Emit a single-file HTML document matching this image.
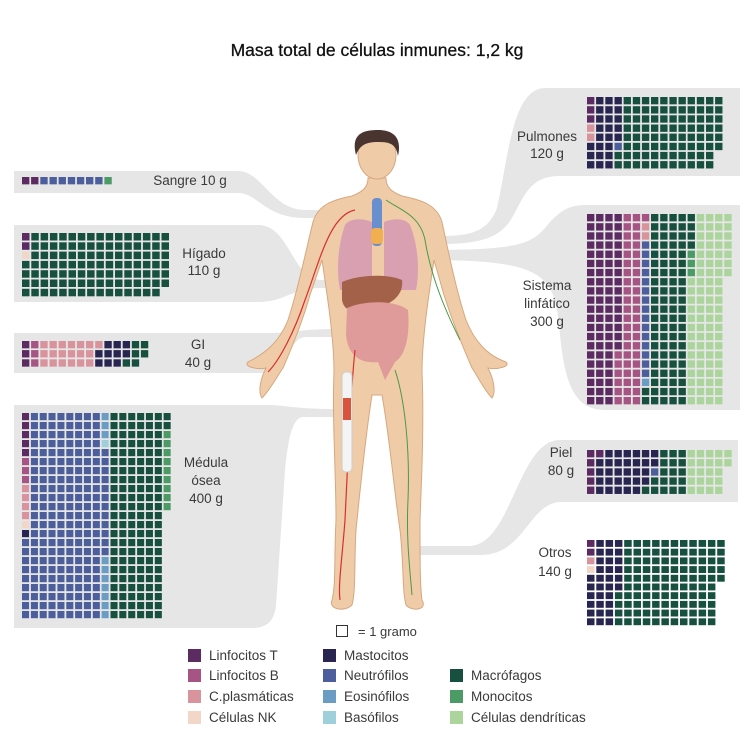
<!DOCTYPE html>
<html><head><meta charset="utf-8"><style>
html,body{margin:0;padding:0;background:#fff;}
svg{display:block;}
text{font-family:"Liberation Sans",sans-serif;fill:#3a3a3a;}
</style></head><body>
<svg id="s" width="754" height="754" viewBox="0 0 754 754" xmlns="http://www.w3.org/2000/svg">
<rect width="754" height="754" fill="#fff"/>
<g fill="#e6e6e6">
<path d="M14,171 H238 C262,171 272,210 305,210 H335 V218 H305 C265,218 258,193 238,193 H14Z"/>
<path d="M14,225 H258 C290,225 292,280 322,280 H338 V288 H322 C292,288 285,302 258,302 H14Z"/>
<path d="M14,333 H270 C290,333 300,329 338,329 V337 H305 C288,339 285,373 265,373 H14Z"/>
<path d="M14,405 H268 C285,405 292,409 338,409 V417 H302 C292,419 288,440 285,470 L276,606 C274,622 266,628 252,628 H14Z"/>
<path d="M545,88 H740 V176 H560 C530,176 525,195 512,218 C500,238 480,244 440,244 V236 C470,236 488,232 497,208 C508,160 512,88 545,88Z"/>
<path d="M585,205 H740 V410 H605 C575,410 565,385 560,335 C555,275 548,260 425,260 V250 C515,250 530,245 545,228 C558,212 568,205 585,205Z"/>
<path d="M560,440 H738 V502 H560 C528,504 525,555 480,555 H415 V546 H470 C512,544 518,440 560,440Z"/>
</g>
<!-- body -->
<g stroke="#d6a880" stroke-width="1" fill="#efcba8">
<path d="M352,196 C332,200 318,205 313,222 C306,250 298,290 288,320 C280,340 268,352 248,362 C243,366 256,370 266,368 C260,380 258,392 262,398 C270,390 278,375 283,368 C293,345 303,320 310,295 L322,260 C328,300 334,340 334,372 C332,420 336,470 336,520 C334,560 336,585 332,600 C328,610 345,612 352,605 C356,590 354,565 356,530 C360,490 365,440 372,395 L382,395 C390,440 394,490 400,530 C404,565 402,590 406,605 C412,612 428,610 422,600 C420,585 420,560 420,520 C422,470 424,420 422,372 C422,340 428,300 434,260 L444,295 C452,320 462,345 472,368 C477,375 484,390 492,398 C496,392 494,380 488,368 C498,370 511,366 506,362 C486,355 474,340 466,320 C456,290 448,250 442,222 C437,205 422,200 402,196 C392,192 386,188 386,178 L368,178 C368,188 362,192 352,196Z"/>
<ellipse cx="377" cy="155" rx="19" ry="24"/>
</g>
<path d="M356,155 C350,132 366,130 378,130 C394,130 402,138 398,156 C396,144 390,142 378,142 C366,142 360,145 356,155Z" fill="#4a3430"/>
<path d="M345,225 C338,245 336,270 340,290 L372,290 L372,222 C362,218 350,218 345,225Z" fill="#d9a0b2"/>
<path d="M410,225 C418,245 420,270 416,290 L384,290 L384,222 C394,218 405,218 410,225Z" fill="#d9a0b2"/>
<rect x="372" y="198" width="10" height="48" rx="4" fill="#6a8fcf"/>
<rect x="371" y="228" width="12" height="16" rx="4" fill="#f0b050"/>
<path d="M342,282 C360,274 390,274 402,280 C404,295 392,305 370,310 C355,313 344,312 342,300Z" fill="#a4614a"/>
<path d="M347,308 C365,300 395,300 408,310 C410,335 406,355 395,362 L385,380 L378,362 C360,364 348,355 346,335Z" fill="#df9a9a"/>
<g stroke="#d53030" stroke-width="1.2" fill="none">
<path d="M355,210 C330,215 320,260 305,300 C295,330 280,360 268,372"/>
<path d="M355,350 C350,400 348,460 345,520 C342,560 338,585 340,600"/>
</g>
<rect x="342" y="372" width="10" height="100" rx="4" fill="#f4f4f4" stroke="#ccc"/>
<rect x="343" y="398" width="8" height="22" fill="#d8543c"/>
<g stroke="#4a9a45" stroke-width="1" fill="none">
<path d="M386,200 C400,210 420,215 425,240 C430,270 440,300 460,340"/>
<path d="M395,370 C405,400 410,450 408,500 C406,540 410,570 412,595"/>
</g>
<g id="grids"></g>
<g font-size="13.5" text-anchor="middle">
<text x="377" y="56" font-size="17.5" style="fill:#111;stroke:#111;stroke-width:0.3">Masa total de células inmunes: 1,2 kg</text>
<text x="190" y="185">Sangre 10 g</text>
<text x="204" y="258">Hígado</text><text x="204" y="275">110 g</text>
<text x="198" y="349">GI</text><text x="198" y="367">40 g</text>
<text x="206" y="467">Médula</text><text x="206" y="485">ósea</text><text x="206" y="503">400 g</text>
<text x="547" y="141">Pulmones</text><text x="547" y="158">120 g</text>
<text x="547" y="290">Sistema</text><text x="547" y="308">linfático</text><text x="547" y="326">300 g</text>
<text x="561" y="457">Piel</text><text x="561" y="475">80 g</text>
<text x="555" y="557">Otros</text><text x="555" y="576">140 g</text>
</g>
<rect x="336.5" y="625.5" width="11" height="11" fill="none" stroke="#333"/>
<text x="358" y="636" font-size="13">=  1 gramo</text>
<g id="leg" font-size="13.5"></g>
</svg>
<script>
var C={T:"#5b2b62",B:"#a65484",P:"#d8939c",N:"#f2d6c8",M:"#282650",U:"#4c5f9c",E:"#6b9dc4",S:"#9fcfda",G:"#17503f",O:"#4c9a66",D:"#abd59c"};
var g=document.getElementById("grids"),ns="http://www.w3.org/2000/svg",p=9.15;
function r(x,y,w,h,c,par){var e=document.createElementNS(ns,"rect");e.setAttribute("x",x);e.setAttribute("y",y);e.setAttribute("width",w);e.setAttribute("height",h);e.setAttribute("fill",c);(par||g).appendChild(e);}
function grid(x0,y0,rows,px,py){px=px||p;py=py||px;rows.forEach(function(row,i){for(var j=0;j<row.length;j++){var ch=row[j];if(C[ch])r((x0+j*px).toFixed(1),(y0+i*py).toFixed(1),px-1.8,py-1.8,C[ch]);}});}
function rep(s,n){var a=[];for(var i=0;i<n;i++)a.push(s);return a;}
grid(22,177,["TTUUUUUUUO"]);
grid(22,233,["TGGGGGGGGGGGGGGG","TGGGGGGGGGGGGGGG","NGGGGGGGGGGGGGGG"].concat(rep("GGGGGGGGGGGGGGGG",3),["GGGGGGGGGGGGGGG"]),9.3,9.3);
grid(22,341,["TBPPPPPPPMMMGG","TBPPPPPPMMMMGG","TBPPPPPPMMMGG"]);
function colgrid(x0,y0,nr,nc,f,px,py){var rows=[];for(var i=0;i<nr;i++){var s="";for(var j=0;j<nc;j++)s+=f(j,i);rows.push(s);}grid(x0,y0,rows,px,py);}
colgrid(22,413,23,17,function(c,i){
 if(c==0)return i<5?"T":i<8?"B":i<12?"P":i==12?"N":i==13?"M":"U";
 if(c<9)return "U";
 if(c==9)return i<3?"E":i==3?"S":i<16?"U":"E";
 if(c<16)return "G";
 return i<2?"G":i<11?"O":".";},8.85,9.0);
grid(587,97,["TMMMGGGGGGGGGGG","TMMMGGGGGGGGGGG","TMMMGGGGGGGGGGG","PMMMGGGGGGGGGGG","PMMMGGGGGGGGGGG","MMMUGGGGGGGGGGG","MMMGGGGGGGGGGG","MMMGGGGGGGGGGG"]);
colgrid(587,214,21,16,function(c,i){
 if(c<3)return "T";
 if(c==3)return i<15?"T":"B";
 if(c<6)return "B";
 if(c==6)return i==0?"B":i<3?"P":i<18?"U":i==18?"E":"G";
 if(c<11)return "G";
 if(c==11)return i<4?"G":i<7?"O":"D";
 if(c<15)return "D";
 return i<7?"D":".";});
grid(587,450,["TTMMMMMMGGGDDDDD","TMMMMMMMGGGDDDDD","TMMMMMMUGGGDDDD","TMMMMMMGGGGDDDD","TMMMMMGGGGGDDDD"]);
grid(587,540,["TMMMGGGGGGGGGGG","TMMMGGGGGGGGGGG","PMMMGGGGGGGGGGG","NMMMGGGGGGGGGGG","MMMMGGGGGGGGGGG","MMMMGGGGGGGGGG","MMMGGGGGGGGGGG","MMMGGGGGGGGGGG","MMMGGGGGGGGGGG","MMMGGGGGGGGGGG"],9.3,8.7);
var L=document.getElementById("leg");
[[188,655,"T","Linfocitos T"],[188,675,"B","Linfocitos B"],[188,696,"P","C.plasmáticas"],[188,717,"N","Células NK"],
 [323,655,"M","Mastocitos"],[323,675,"U","Neutrófilos"],[323,696,"E","Eosinófilos"],[323,717,"S","Basófilos"],
 [450,675,"G","Macrófagos"],[450,696,"O","Monocitos"],[450,717,"D","Células dendríticas"]].forEach(function(a){
 r(a[0],a[1]-6,13,13,C[a[2]],L);var t=document.createElementNS(ns,"text");t.setAttribute("x",a[0]+21);t.setAttribute("y",a[1]+5);t.textContent=a[3];L.appendChild(t);});
</script>
</body></html>
